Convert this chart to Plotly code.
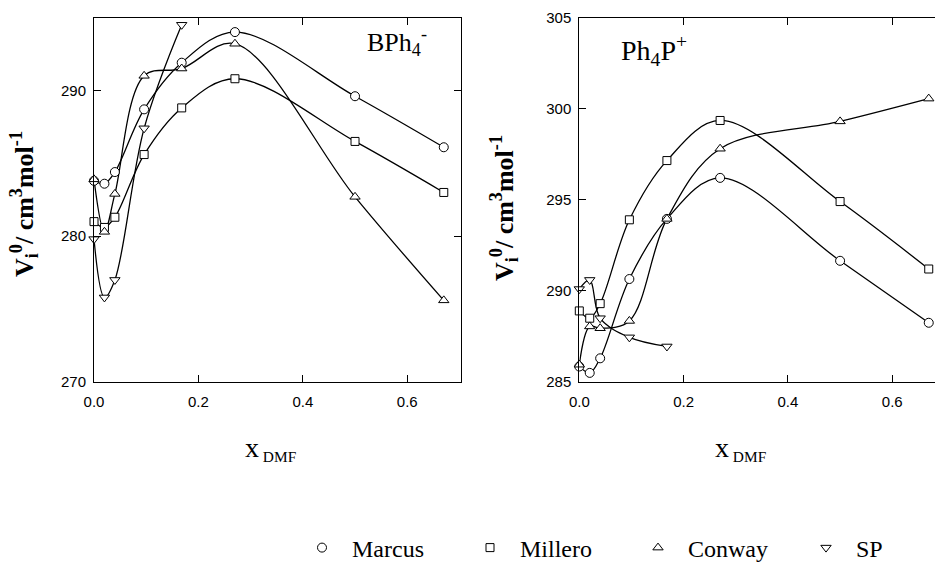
import plotly.graph_objects as go

# ---------------- data ----------------
# Left panel: BPh4-
x_bph_full = [0.0, 0.02, 0.04, 0.096, 0.168, 0.27, 0.5, 0.67]
bph_marcus = [283.8, 283.6, 284.4, 288.7, 291.9, 294.0, 289.6, 286.1]
bph_millero = [281.0, 280.6, 281.3, 285.6, 288.8, 290.8, 286.5, 283.0]
bph_conway = [283.9, 280.3, 282.9, 291.0, 291.5, 293.2, 282.7, 275.6]
x_sp = [0.0, 0.02, 0.04, 0.096, 0.168]
bph_sp = [279.8, 275.8, 277.0, 287.4, 294.5]

# Right panel: Ph4P+
x_ph_full = [0.0, 0.02, 0.04, 0.096, 0.168, 0.27, 0.5, 0.67]
ph_marcus = [285.85, 285.5, 286.3, 290.65, 293.95, 296.2, 291.65, 288.25]
ph_millero = [288.9, 288.5, 289.3, 293.9, 297.15, 299.35, 294.9, 291.2]
ph_conway = [285.95, 288.05, 287.95, 288.35, 293.95, 297.8, 299.3, 300.55]
ph_sp = [290.1, 290.6, 288.5, 287.45, 286.95]

series_names = ["Marcus", "Millero", "Conway", "SP"]
symbols = ["circle", "square", "triangle-up", "triangle-down"]

xticks = [0.0, 0.2, 0.4, 0.6]
left_yticks = [270, 280, 290]
right_yticks = [285, 290, 295, 300, 305]

W, H = 935, 569
fig = go.Figure()

left = [(x_bph_full, bph_marcus), (x_bph_full, bph_millero),
        (x_bph_full, bph_conway), (x_sp, bph_sp)]
right = [(x_ph_full, ph_marcus), (x_ph_full, ph_millero),
         (x_ph_full, ph_conway), (x_sp, ph_sp)]

# lines first (smooth curves)
for panel, xa, ya in [(left, "x", "y"), (right, "x2", "y2")]:
    for i, (x, y) in enumerate(panel):
        fig.add_trace(go.Scatter(
            x=x, y=y, mode="lines", showlegend=False, hoverinfo="skip",
            line=dict(color="black", width=1.3, shape="spline", smoothing=1.0),
            xaxis=xa, yaxis=ya))
# markers on top
for panel, xa, ya, show in [(left, "x", "y", True), (right, "x2", "y2", False)]:
    for i, (x, y) in enumerate(panel):
        fig.add_trace(go.Scatter(
            x=x, y=y, mode="markers", name=series_names[i], showlegend=show,
            cliponaxis=False,
            marker=dict(symbol=symbols[i], size=9 if i != 1 else 8,
                        color="white", line=dict(color="black", width=1)),
            xaxis=xa, yaxis=ya))

tickfont = dict(family="Liberation Sans, Arial", size=15, color="black")
ydom = [1 - 382 / H, 1 - 17.5 / H]

common_x = dict(showline=True, linecolor="black", linewidth=1, ticks="inside",
                ticklen=7, tickcolor="black", tickvals=xticks, tickformat=".1f",
                showgrid=False, zeroline=False, tickfont=tickfont,
                ticklabelstandoff=6, automargin=False)
common_y = dict(showline=True, linecolor="black", linewidth=1, ticks="inside",
                ticklen=7, tickcolor="black", showgrid=False, zeroline=False,
                tickfont=tickfont, ticklabelstandoff=4, automargin=False)

fig.update_layout(
    width=W, height=H,
    margin=dict(l=0, r=0, t=0, b=0, autoexpand=False),
    paper_bgcolor="white", plot_bgcolor="white",
    xaxis=dict(domain=[94 / W, 461 / W], range=[0, 0.703], mirror="ticks",
               anchor="y", **common_x),
    yaxis=dict(domain=ydom, range=[270, 295], tickvals=left_yticks,
               mirror="ticks", anchor="x", **common_y),
    xaxis2=dict(domain=[579.3 / W, 1.0], range=[0, 0.682], mirror="ticks",
                anchor="y2", **common_x),
    yaxis2=dict(domain=ydom, range=[285, 305], tickvals=right_yticks,
                mirror=False, anchor="x2", **common_y),
    legend=dict(orientation="h", x=292 / W, xanchor="left", y=1 - 548 / H,
                yanchor="middle", entrywidth=103, entrywidthmode="pixels",
                itemwidth=50,
                font=dict(family="Liberation Serif, Times New Roman", size=24,
                          color="black"),
                bgcolor="rgba(0,0,0,0)", traceorder="normal"),
)

serif = "Liberation Serif, Times New Roman"
ytitle = "<b>V<sub>i</sub><sup>0</sup>/ cm<sup>3</sup>mol<sup>-1</sup></b>"
xtitle = "<span style='font-size:28px'>x</span><sub> DMF</sub>"
for xc, yc in [(24, 204), (504, 208)]:
    fig.add_annotation(x=xc / W, y=1 - yc / H, xref="paper", yref="paper",
                       text=ytitle, textangle=-90, showarrow=False,
                       font=dict(family=serif, size=26, color="black"),
                       xanchor="center", yanchor="middle")

for xc in [270, 740]:
    fig.add_annotation(x=xc / W, y=1 - 448 / H, xref="paper", yref="paper",
                       text=xtitle, showarrow=False,
                       font=dict(family=serif, size=22, color="black"),
                       xanchor="center", yanchor="middle")

fig.add_annotation(x=0.58, y=293.3, xref="x", yref="y",
                   text="BPh<sub>4</sub><sup>-</sup>", showarrow=False,
                   font=dict(family=serif, size=26, color="black"))
fig.add_annotation(x=0.143, y=303.2, xref="x2", yref="y2",
                   text="Ph<sub>4</sub>P<sup>+</sup>", showarrow=False,
                   font=dict(family=serif, size=28, color="black"))

fig.write_html("out.html",
               config={"displayModeBar": False},
               post_script="document.body.style.margin='0px';"
                           "document.body.style.overflow='hidden';")
